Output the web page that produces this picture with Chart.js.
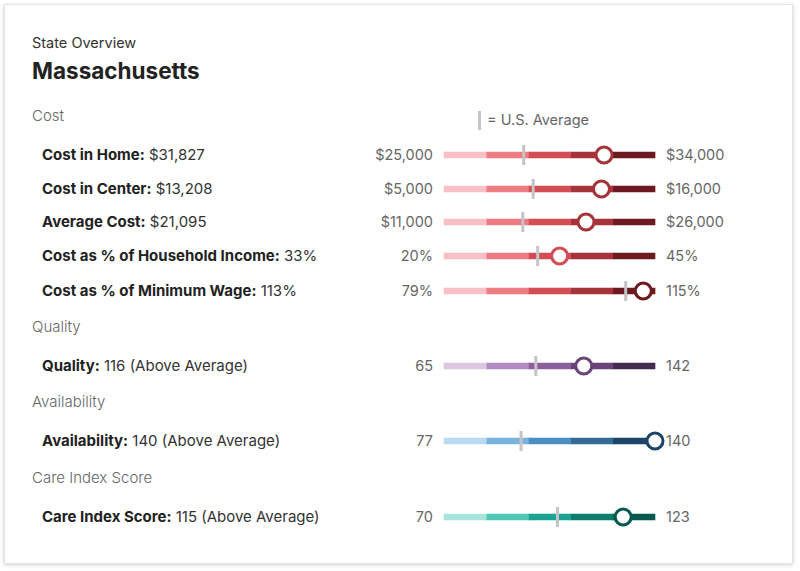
<!DOCTYPE html>
<html>
<head>
<meta charset="utf-8">
<script src="https://cdn.jsdelivr.net/npm/chart.js@4.4.1/dist/chart.umd.min.js"></script>
<style>
  html, body { margin: 0; padding: 0; background: #fff; }
  body { width: 800px; height: 571px; position: relative; font-family: Inter, "Noto Sans", sans-serif; overflow: hidden; }
  .card { position: absolute; left: 4px; top: 4px; width: 787px; height: 558px; background: #fff;
          border: 1px solid #e4e4e4; box-shadow: 0 1px 4px rgba(0,0,0,0.18); }
  .t { position: absolute; white-space: nowrap; line-height: 24px; height: 24px; }
  .sub { font-size: 14.5px; color: #333; }
  .title { font-size: 22.5px; font-weight: 700; color: #222; line-height: 30px; height: 30px; }
  .sect { font-size: 15px; color: #666; font-weight: 300; }
  .lbl { font-size: 15px; color: #333; }
  .lbl b { font-weight: 700; color: #222; }
  .rng { font-size: 14.5px; color: #666; }
  .rng.min { text-align: right; width: 90px; }
  canvas.g { position: absolute; }
  .avgmark { position: absolute; width: 3px; height: 19px; background: #c4c4c4; }
</style>
</head>
<body>
<div class="card"></div>
<div id="root"></div>
<script>
// ---- données ----
const rowLabels = ["Cost in Home", "Cost in Center", "Average Cost", "Cost as % of Household Income",
  "Cost as % of Minimum Wage", "Quality", "Availability", "Care Index Score"];
const rowValueText = ["$31,827", "$13,208", "$21,095", "33%", "113%",
  "116 (Above Average)", "140 (Above Average)", "115 (Above Average)"];
const rowValue = [31827, 13208, 21095, 33.7, 113, 116, 140, 115];
const usAverage = [28400, 9650, 16600, 31.1, 110, 98.5, 100, 98.5];
const rowMin = [25000, 5000, 11000, 20, 79, 65, 77, 70];
const rowMax = [34000, 16000, 26000, 45, 115, 142, 140, 123];
const rowMinText = ["$25,000", "$5,000", "$11,000", "20%", "79%", "65", "77", "70"];
const rowMaxText = ["$34,000", "$16,000", "$26,000", "45%", "115%", "142", "140", "123"];
const rowPalette = [0, 0, 0, 0, 0, 1, 2, 3];
const sections = ["Cost", "Quality", "Availability", "Care Index Score"];

// ---- mise en page ----
const PALETTES = [
  ["#f7c0c4", "#ee7b82", "#d44c54", "#a6333a", "#6c1a20"],
  ["#dcc6e1", "#b38dc0", "#8c5e9d", "#6a4479", "#432a4f"],
  ["#badaf1", "#78b3e0", "#4a8ec4", "#346a96", "#1c4467"],
  ["#a9e4dc", "#50c6b7", "#1aa393", "#0c7d6f", "#07594f"],
];
const rowY = [155, 189, 222, 256, 291, 366, 441, 517];
const sectionY = [116, 327, 402, 478];
const BAR_L = 444, BAR_W = 211, PAD = 14;

const root = document.getElementById("root");
function addText(cls, x, y, html) {
  const d = document.createElement("div");
  d.className = "t " + cls;
  d.style.left = x + "px";
  d.style.top = (y - 12) + "px";
  d.innerHTML = html;
  root.appendChild(d);
  return d;
}

addText("sub", 32, 43, "State Overview");
const ti = addText("title", 32, 71, "Massachusetts");
ti.style.top = "56px";
sections.forEach((s, i) => addText("sect", 32, sectionY[i], s));

const leg = document.createElement("div");
leg.className = "avgmark";
leg.style.left = "478px"; leg.style.top = "111px";
root.appendChild(leg);
addText("rng", 487, 120, "= U.S. Average");

function bandIndex(i) {
  const f = (rowValue[i] - rowMin[i]) / (rowMax[i] - rowMin[i]);
  return Math.min(4, Math.floor(f * 5));
}

rowLabels.forEach((lab, i) => {
  addText("lbl", 42, rowY[i], "<b>" + lab + ":</b> " + rowValueText[i]);
  addText("rng min", 343, rowY[i], rowMinText[i]);
  addText("rng", 666, rowY[i], rowMaxText[i]);

  const cv = document.createElement("canvas");
  cv.className = "g";
  const W = BAR_W + PAD * 2, H = 30;
  cv.width = W; cv.height = H;
  cv.style.width = W + "px"; cv.style.height = H + "px";
  cv.style.left = (BAR_L - PAD) + "px";
  cv.style.top = (rowY[i] - H / 2) + "px";
  root.appendChild(cv);

  const pal = PALETTES[rowPalette[i]];
  const step = (rowMax[i] - rowMin[i]) / 5;
  const bands = pal.map((c, k) => ({
    type: "bar",
    data: [[rowMin[i] + step * k, rowMin[i] + step * (k + 1)]],
    backgroundColor: c,
    borderWidth: 0,
    barThickness: 6,
    clip: false,
    order: 3,
  }));

  new Chart(cv, {
    type: "bar",
    data: {
      labels: ["r"],
      datasets: [
        {
          type: "scatter",
          data: [{ x: rowValue[i], y: "r" }],
          pointStyle: "circle",
          pointRadius: 8,
          pointBorderWidth: 3,
          pointBackgroundColor: "#fff",
          pointBorderColor: pal[bandIndex(i)],
          clip: false,
          order: 1,
        },
        {
          type: "scatter",
          data: [{ x: usAverage[i], y: "r" }],
          pointStyle: "line",
          rotation: 90,
          pointRadius: 10,
          pointBorderWidth: 3,
          pointBorderColor: "#c4c4c4",
          clip: false,
          order: 2,
        },
        ...bands,
      ],
    },
    options: {
      indexAxis: "y",
      responsive: false,
      animation: false,
      layout: { padding: { left: PAD, right: PAD, top: 0, bottom: 0 } },
      plugins: { legend: { display: false }, tooltip: { enabled: false } },
      scales: {
        x: { type: "linear", min: rowMin[i], max: rowMax[i], display: false },
        y: { type: "category", display: false, stacked: true },
      },
    },
  });
});
</script>
</body>
</html>
